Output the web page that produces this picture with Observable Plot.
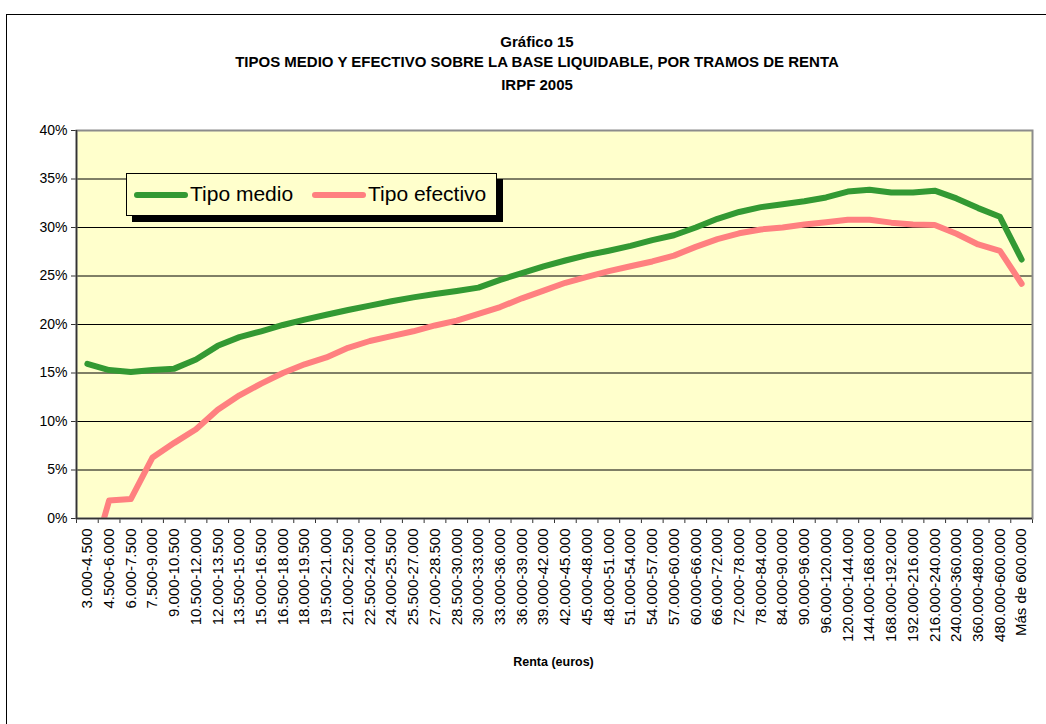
<!DOCTYPE html>
<html><head><meta charset="utf-8">
<script src="https://cdn.jsdelivr.net/npm/d3@7"></script>
<script src="https://cdn.jsdelivr.net/npm/@observablehq/plot@0.6"></script>
<style>
body{margin:0;background:#fff;font-family:"Liberation Sans",Arial,sans-serif;}
#wrap{position:relative;width:1046px;height:724px;overflow:hidden;background:#fff;}
#border{position:absolute;left:6px;top:14px;width:1100px;height:800px;border:1px solid #000;}
.t{position:absolute;left:0;width:1074px;text-align:center;font-weight:bold;font-size:15px;line-height:16px;color:#000;}
#chart{position:absolute;left:0;top:110px;}
#xlabel{position:absolute;left:0;width:1107px;top:654px;text-align:center;font-weight:bold;font-size:12.5px;line-height:16px;}
#legend{position:absolute;left:126px;top:173px;width:369px;height:41px;border:1px solid #000;background:#FFFFCC;box-shadow:6px 6px 0 #000;}
.sw{position:absolute;top:18px;height:6px;width:54px;border-radius:3px;}
.lt{position:absolute;top:7px;font-size:21px;line-height:26px;color:#000;white-space:nowrap;}
</style></head>
<body>
<div id="wrap">
  <div id="border"></div>
  <div class="t" style="top:34px">Gráfico 15</div>
  <div class="t" style="top:54px">TIPOS MEDIO Y EFECTIVO SOBRE LA BASE LIQUIDABLE, POR TRAMOS DE RENTA</div>
  <div class="t" style="top:77px">IRPF 2005</div>
  <div id="chart"></div>
  <div id="xlabel">Renta (euros)</div>
  <div id="legend"></div>
</div>
<script>
const categories = ["3.000-4.500","4.500-6.000","6.000-7.500","7.500-9.000","9.000-10.500","10.500-12.000","12.000-13.500","13.500-15.000","15.000-16.500","16.500-18.000","18.000-19.500","19.500-21.000","21.000-22.500","22.500-24.000","24.000-25.500","25.500-27.000","27.000-28.500","28.500-30.000","30.000-33.000","33.000-36.000","36.000-39.000","39.000-42.000","42.000-45.000","45.000-48.000","48.000-51.000","51.000-54.000","54.000-57.000","57.000-60.000","60.000-66.000","66.000-72.000","72.000-78.000","78.000-84.000","84.000-90.000","90.000-96.000","96.000-120.000","120.000-144.000","144.000-168.000","168.000-192.000","192.000-216.000","216.000-240.000","240.000-360.000","360.000-480.000","480.000-600.000","Más de 600.000"];
const tipoMedio = [15.95,15.3,15.1,15.3,15.45,16.4,17.8,18.7,19.3,19.95,20.5,21.0,21.5,21.95,22.4,22.8,23.15,23.45,23.8,24.6,25.3,26.0,26.6,27.15,27.6,28.1,28.7,29.2,30.0,30.9,31.6,32.1,32.4,32.7,33.1,33.7,33.9,33.6,33.6,33.8,33.0,32.0,31.1,26.7];
const tipoEfectivo = [-6.0,1.85,2.0,6.3,7.8,9.2,11.2,12.7,13.9,15.0,15.9,16.6,17.6,18.3,18.8,19.3,19.9,20.4,21.1,21.8,22.7,23.5,24.3,24.9,25.5,26.0,26.5,27.1,28.0,28.8,29.4,29.8,30.0,30.3,30.55,30.8,30.8,30.5,30.3,30.25,29.35,28.25,27.6,24.2];
const yTicks = [0,0.05,0.10,0.15,0.20,0.25,0.30,0.35,0.40];
const seriesNames = ["Tipo medio","Tipo efectivo"];
const seriesColors = ["#339933","#FF8080"];

const n = categories.length;
const centers = categories.map((_, i) => i + 0.5);
const bounds = d3.range(0, n + 1);

const chart = Plot.plot({
  width: 1046,
  height: 560,
  marginTop: 20,
  marginLeft: 76,
  marginRight: 14,
  marginBottom: 560 - 20 - 388,
  style: {fontFamily: "'Liberation Sans', Arial, sans-serif", background: "transparent", color: "#000"},
  x: {domain: [0, n]},
  y: {domain: [0, 0.4]},
  marks: [
    Plot.frame({fill: "#FFFFCC", stroke: null}),
    Plot.ruleY(yTicks.slice(1, -1), {stroke: "#000", strokeWidth: 1}),
    Plot.axisY({ticks: yTicks, tickFormat: d3.format(".0%"), tickSize: 5, tickPadding: 4, fontSize: 14, label: null, stroke: "#333"}),
    Plot.axisX({ticks: bounds, tickSize: 5, tickFormat: () => "", label: null, stroke: "#333"}),
    Plot.axisX({ticks: centers, tickSize: 0, tickRotate: -90, tickPadding: 10, tickFormat: v => categories[Math.round(v - 0.5)], fontSize: 15, label: null}),
    Plot.lineY(tipoMedio, {x: (d, i) => i + 0.5, y: d => d / 100, stroke: seriesColors[0], strokeWidth: 6, strokeLinejoin: "round", strokeLinecap: "round", clip: true}),
    Plot.lineY(tipoEfectivo, {x: (d, i) => i + 0.5, y: d => d / 100, stroke: seriesColors[1], strokeWidth: 6, strokeLinejoin: "round", strokeLinecap: "round", clip: true}),
    Plot.frame({stroke: "#8c8c8c", strokeWidth: 2}),
    Plot.ruleX([0], {stroke: "#333", strokeWidth: 1.5}),
    Plot.ruleY([0], {stroke: "#333", strokeWidth: 1.5})
  ]
});
document.getElementById("chart").appendChild(chart);

const legend = document.getElementById("legend");
const sw = [7, 185];
const tx = [63, 241];
seriesNames.forEach((name, i) => {
  const s = document.createElement("div");
  s.className = "sw"; s.style.left = sw[i] + "px"; s.style.background = seriesColors[i];
  legend.appendChild(s);
  const t = document.createElement("div");
  t.className = "lt"; t.style.left = tx[i] + "px"; t.textContent = name;
  legend.appendChild(t);
});
</script>
</body></html>
